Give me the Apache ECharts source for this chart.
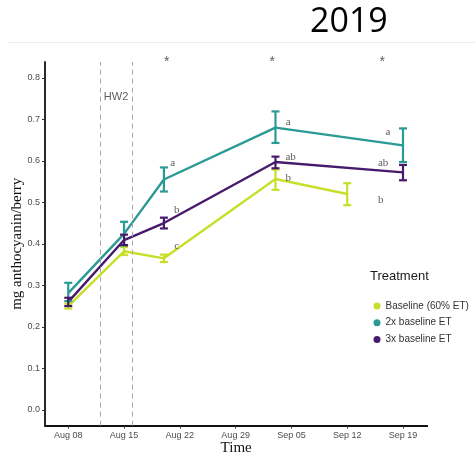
<!DOCTYPE html>
<html>
<head>
<meta charset="utf-8">
<script src="https://cdn.jsdelivr.net/npm/echarts@6/dist/echarts.min.js"></script>
<style>
  html, body { margin: 0; padding: 0; background: #fff; }
  #chart { width: 475px; height: 458px; }
</style>
</head>
<body>
<div id="chart"></div>
<script>
// Sampling dates and treatment groups
const sampleDates = ['2019-08-08', '2019-08-15', '2019-08-20', '2019-09-03', '2019-09-12', '2019-09-19'];
const treatments = ['Baseline (60% ET)', '2x baseline ET', '3x baseline ET'];
const treatmentColors = ['#c8df2a', '#2a9a94', '#481a6c'];

// Mean anthocyanin per berry (mg) and error bar limits; null = not sampled
const baselineMean = [0.250, 0.382, 0.365, 0.556, 0.520, null];
const baselineLow  = [0.244, 0.373, 0.356, 0.530, 0.493, null];
const baselineHigh = [0.256, 0.392, 0.374, 0.579, 0.546, null];

const double2xMean = [0.281, 0.424, 0.555, 0.680, null, 0.637];
const double2xLow  = [0.262, 0.396, 0.526, 0.643, null, 0.597];
const double2xHigh = [0.306, 0.453, 0.584, 0.719, null, 0.678];

const triple3xMean = [0.260, 0.409, 0.450, 0.597, null, 0.572];
const triple3xLow  = [0.250, 0.397, 0.437, 0.582, null, 0.553];
const triple3xHigh = [0.270, 0.422, 0.463, 0.610, null, 0.590];

// Axis ticks
const tickDates = ['2019-08-08', '2019-08-15', '2019-08-22', '2019-08-29', '2019-09-05', '2019-09-12', '2019-09-19'];
const tickLabels = ['Aug 08', 'Aug 15', 'Aug 22', 'Aug 29', 'Sep 05', 'Sep 12', 'Sep 19'];
const yTicks = [0.0, 0.1, 0.2, 0.3, 0.4, 0.5, 0.6, 0.7, 0.8];

// Heatwave window (HW2)
const heatwaveDates = ['2019-08-12', '2019-08-16'];
const heatwaveLabel = 'HW2';

// Significance letters: [day offset, value, text]
const letterMarks = [
  [13.1, 0.595, 'a'], [13.6, 0.482, 'b'], [13.6, 0.395, 'c'],
  [27.6, 0.694, 'a'], [27.9, 0.609, 'ab'], [27.6, 0.559, 'b'],
  [40.1, 0.670, 'a'], [39.5, 0.595, 'ab'], [39.2, 0.506, 'b']
];
// Significance asterisks: [day offset, value]
const starMarks = [[12.35, 0.838], [25.6, 0.838], [39.4, 0.838]];

const DAY = 86400000;
const origin = Date.parse('2019-08-08T00:00:00Z');
const dayOf = s => (Date.parse(s + 'T00:00:00Z') - origin) / DAY;

const xMin = -2.92, xMax = 45.05;
const yMin = -0.038, yMax = 0.838;

const groups = [
  { mean: baselineMean, low: baselineLow, high: baselineHigh },
  { mean: double2xMean, low: double2xLow, high: double2xHigh },
  { mean: triple3xMean, low: triple3xLow, high: triple3xHigh }
];

const tickPos = tickDates.map(dayOf);
const labelFor = v => {
  const i = tickPos.findIndex(t => Math.abs(t - v) < 1e-6);
  return i >= 0 ? tickLabels[i] : '';
};

const series = [];
groups.forEach((g, gi) => {
  const pts = [];
  const bars = [];
  sampleDates.forEach((d, i) => {
    if (g.mean[i] == null) return;
    pts.push([dayOf(d), g.mean[i]]);
    bars.push([dayOf(d), g.low[i], g.high[i]]);
  });
  series.push({
    name: treatments[gi],
    type: 'line',
    data: pts,
    symbol: 'none',
    z: 2,
    lineStyle: { color: treatmentColors[gi], width: 2.4 },
    itemStyle: { color: treatmentColors[gi] },
    silent: true
  });
  series.push({
    name: treatments[gi] + ' error',
    type: 'custom',
    data: bars,
    z: 3,
    silent: true,
    renderItem: (params, api) => {
      const x = api.value(0);
      const lo = api.coord([x, api.value(1)]);
      const hi = api.coord([x, api.value(2)]);
      const hw = 4;
      const style = { stroke: treatmentColors[gi], lineWidth: 2.2 };
      return {
        type: 'group',
        children: [
          { type: 'line', shape: { x1: lo[0], y1: lo[1], x2: hi[0], y2: hi[1] }, style },
          { type: 'line', shape: { x1: hi[0] - hw, y1: hi[1], x2: hi[0] + hw, y2: hi[1] }, style },
          { type: 'line', shape: { x1: lo[0] - hw, y1: lo[1], x2: lo[0] + hw, y2: lo[1] }, style }
        ]
      };
    }
  });
});

// Heatwave dashed boundaries and label
series.push({
  name: 'heatwave',
  type: 'scatter',
  data: [[(dayOf(heatwaveDates[0]) + dayOf(heatwaveDates[1])) / 2, 0.754]],
  symbolSize: 0,
  silent: true,
  label: {
    show: true, position: 'inside', formatter: heatwaveLabel,
    fontFamily: 'Liberation Sans', fontSize: 11, color: '#333'
  },
  markLine: {
    symbol: 'none', silent: true, label: { show: false },
    lineStyle: { type: [5, 4], color: '#a8a8a8', width: 1 },
    data: heatwaveDates.map(d => ({ xAxis: dayOf(d) }))
  }
});

// Letters
series.push({
  name: 'letters',
  type: 'scatter',
  data: letterMarks,
  symbolSize: 0,
  silent: true,
  label: {
    show: true, position: 'inside', formatter: p => p.value[2],
    fontFamily: 'Liberation Serif', fontSize: 11, color: '#333'
  }
});

// Asterisks
series.push({
  name: 'stars',
  type: 'scatter',
  data: starMarks,
  symbolSize: 0,
  clip: false,
  silent: true,
  label: {
    show: true, position: 'inside', formatter: '*',
    fontFamily: 'Liberation Sans', fontSize: 14, color: '#333'
  }
});

const chart = echarts.init(document.getElementById('chart'), null, { renderer: 'canvas' });
chart.setOption({
  animation: false,
  backgroundColor: '#fff',
  grid: { left: 45, right: 47.7, top: 62, bottom: 32.4, containLabel: false, outerBoundsMode: 'none' },
  xAxis: {
    type: 'value', min: xMin, max: xMax,
    name: 'Time', nameLocation: 'middle', nameGap: 15, nameMoveOverlap: false,
    nameTextStyle: { fontFamily: 'Liberation Serif', fontSize: 15, color: '#111' },
    axisLine: { onZero: false, lineStyle: { color: '#111', width: 1.8 } },
    axisTick: { customValues: tickPos, length: 3, lineStyle: { color: '#333', width: 1 } },
    axisLabel: {
      customValues: tickPos, formatter: v => labelFor(v), margin: 5,
      fontFamily: 'Liberation Sans', fontSize: 9, color: '#4d4d4d'
    },
    splitLine: { show: false }
  },
  yAxis: {
    type: 'value', min: yMin, max: yMax,
    name: 'mg anthocyanin/berry', nameLocation: 'middle', nameGap: 20, nameMoveOverlap: false,
    nameTextStyle: { fontFamily: 'Liberation Serif', fontSize: 15, color: '#111' },
    axisLine: { show: true, onZero: false, lineStyle: { color: '#111', width: 1.8 } },
    axisTick: { show: true, customValues: yTicks, length: 3, lineStyle: { color: '#333', width: 1 } },
    axisLabel: {
      customValues: yTicks, formatter: v => v.toFixed(1), margin: 5,
      fontFamily: 'Liberation Sans', fontSize: 9, color: '#4d4d4d'
    },
    splitLine: { show: false }
  },
  legend: {
    data: treatments.map(n => ({ name: n, icon: 'circle' })),
    orient: 'vertical', left: 368.5, top: 296,
    itemWidth: 7, itemHeight: 7, itemGap: 6.7,
    selectedMode: false,
    textStyle: { fontFamily: 'Liberation Sans', fontSize: 10, color: '#333', lineHeight: 10 }
  },
  graphic: [
    { type: 'text', left: 310, top: 5,
      style: { text: '2019', font: '34px "Open Sans"', fill: '#000' } },
    { type: 'line', shape: { x1: 8, y1: 42.5, x2: 475, y2: 42.5 },
      style: { stroke: '#ececec', lineWidth: 1 } },
    { type: 'text', left: 370, top: 270,
      style: { text: 'Treatment', font: '13px "Liberation Sans"', fill: '#1a1a1a' } }
  ],
  series
});
</script>
</body>
</html>
